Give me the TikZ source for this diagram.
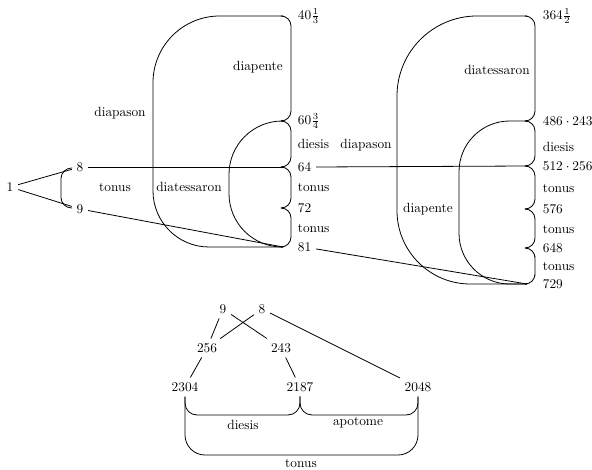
\documentclass[tikz,border=0pt]{standalone}
\usetikzlibrary{calc}
\begin{document}
\begin{tikzpicture}[x=0.75pt,y=-0.75pt,line width=0.6pt,
  lab/.style={anchor=west},
  brk/.style={rounded corners=7.5}]
\useasboundingbox (0,0) rectangle (592,470);
% ---------- left: 1, 8, 9
\node (one) at (10,187) {1};
\node (n8) at (80,167) {8};
\node (n9) at (80,209) {9};
\draw (one) -- (n8);
\draw (one) -- (n9);
\draw[rounded corners=8] (72,168) -| (61,188) |- (72,208);
\node (tonA) at (115,187) {tonus};
% ---------- middle structure
\coordinate (a1) at (283,16);
\coordinate (a2) at (283,121);
\coordinate (a3) at (283,167);
\coordinate (a4) at (283,208);
\coordinate (a5) at (283,247);
\node[lab] (la1) at (293,16) {$40\frac13$};
\node[lab] (la2) at (293,121) {$60\frac34$};
\node[lab] (la3) at (293,167) {64};
\node[lab] (la4) at (293,208) {72};
\node[lab] (la5) at (293,247) {81};
\foreach \p/\q in {a1/a2,a2/a3,a3/a4,a4/a5}
  \draw[brk] (\p) -| ($(\p)!.5!(\q)+(8,0)$) |- (\q);
\draw (a1) [rounded corners=50] -- (153,16) [rounded corners=42] -- (153,247) -- (a5);
\draw[rounded corners=40] (a2) -- (229,121) -- (229,247) -- (a5);
\node (dpA) at (258,67) {diapente};
\node (dsA) at (120,113) {diapason};
\node (dtA) at (189,187) {diatessaron};
\node[lab] (diA) at (293,144) {diesis};
\node[lab] (toA1) at (293,187) {tonus};
\node[lab] (toA2) at (293,228) {tonus};
% ---------- right structure
\coordinate (b1) at (527,16);
\coordinate (b2) at (527,121);
\coordinate (b3) at (527,166);
\coordinate (b4) at (527,209);
\coordinate (b5) at (527,248);
\coordinate (b6) at (527,284);
\node[lab] (lb1) at (538,16) {$364\frac12$};
\node[lab] (lb2) at (538,121) {$486\cdot243$};
\node[lab] (lb3) at (538,166) {$512\cdot256$};
\node[lab] (lb4) at (538,209) {576};
\node[lab] (lb5) at (538,248) {648};
\node[lab] (lb6) at (538,284) {729};
\foreach \p/\q in {b1/b2,b2/b3,b3/b4,b4/b5,b5/b6}
  \draw[brk] (\p) -| ($(\p)!.5!(\q)+(8,0)$) |- (\q);
\draw (b1) [rounded corners=60] -- (397,16) [rounded corners=55] -- (397,284) -- (b6);
\draw[rounded corners=38] (b2) -- (459,121) -- (459,284) -- (b6);
\node (dtB) at (497,70) {diatessaron};
\node (dsB) at (366,145) {diapason};
\node (dpB) at (428,209) {diapente};
\node[lab] (diB) at (538,147) {diesis};
\node[lab] (toB1) at (538,188) {tonus};
\node[lab] (toB2) at (538,229) {tonus};
\node[lab] (toB3) at (538,266) {tonus};
% ---------- connecting lines
\draw (n8) -- (a3);
\draw (la3.east) -- (b3);
\draw (n9) -- (a5);
\draw (la5) -- (b6);
% ---------- bottom tree
\node (c9) at (223,309) {9};
\node (c8) at (262,309) {8};
\node (c256) at (207,348) {256};
\node (c243) at (281,348) {243};
\node (c2304) at (185,387) {2304};
\node (c2187) at (300,387) {2187};
\node (c2048) at (418,387) {2048};
\draw (c9) -- (c256);
\draw (c8) -- (c256);
\draw (c9) -- (c243);
\draw (c8) -- (c2048);
\draw (c256) -- (c2304);
\draw (c243) -- (c2187);
\draw[rounded corners=9] (c2304.south) -- ++(0,18.5) -| (c2187.south);
\draw[rounded corners=9] (c2187.south) -- ++(0,18.5) -| (c2048.south);
\draw[rounded corners=15] (c2304.south) -- ++(0,58.5) -| (c2048.south);
\node (diC) at (243,425) {diesis};
\node (apC) at (358,423) {apotome};
\node (toC) at (301,463) {tonus};
\end{tikzpicture}
\end{document}
